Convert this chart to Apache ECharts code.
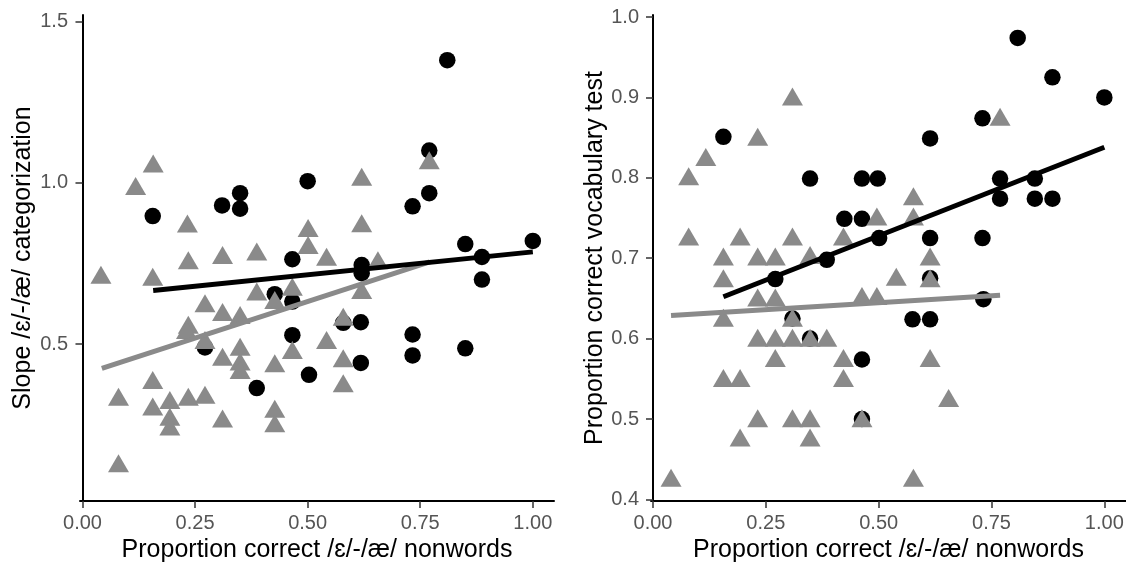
<!DOCTYPE html>
<html>
<head>
<meta charset="utf-8">
<script src="https://cdn.jsdelivr.net/npm/echarts@6/dist/echarts.min.js"></script>
<style>
html,body{margin:0;padding:0;background:#fff;}
#chart{width:1126px;height:562px;}
</style>
</head>
<body>
<div id="chart"></div>
<script>
// ---- Data ----
const xTicks = [0, 0.25, 0.5, 0.75, 1.0];
const leftYTicks = [0.5, 1.0, 1.5];
const rightYTicks = [0.4, 0.5, 0.6, 0.7, 0.8, 0.9, 1.0];

// Left panel: slope of categorization
const leftCircles = [
  [0.156,0.897],[0.31,0.93],[0.35,0.968],[0.35,0.92],[0.50,1.005],[0.81,1.38],
  [0.77,1.10],[0.77,0.968],[0.733,0.927],[0.85,0.81],[1.00,0.82],[0.887,0.77],
  [0.887,0.70],[0.62,0.745],[0.62,0.72],[0.618,0.568],[0.579,0.566],[0.618,0.442],
  [0.733,0.53],[0.733,0.465],[0.85,0.487],[0.503,0.405],[0.466,0.763],[0.427,0.655],
  [0.466,0.632],[0.466,0.528],[0.272,0.49],[0.387,0.364]
];
const leftTriangles = [
  [0.041,0.715],[0.08,0.337],[0.08,0.131],[0.118,0.99],[0.157,1.06],[0.156,0.709],
  [0.156,0.389],[0.156,0.307],[0.194,0.327],[0.194,0.275],[0.194,0.245],[0.233,0.874],
  [0.235,0.76],[0.235,0.56],[0.231,0.544],[0.235,0.337],[0.272,0.627],[0.272,0.513],
  [0.272,0.343],[0.311,0.776],[0.311,0.60],[0.311,0.461],[0.311,0.27],[0.35,0.59],
  [0.35,0.492],[0.35,0.446],[0.35,0.42],[0.387,0.787],[0.387,0.663],[0.427,0.637],
  [0.427,0.441],[0.427,0.30],[0.427,0.255],[0.466,0.678],[0.466,0.482],[0.501,0.86],
  [0.501,0.807],[0.542,0.771],[0.542,0.513],[0.579,0.585],[0.579,0.456],[0.579,0.379],
  [0.62,1.019],[0.62,0.875],[0.62,0.668],[0.656,0.76],[0.77,1.07]
];
const leftLineBlack = [[0.157,0.666],[1.0,0.786]];
const leftLineGrey = [[0.043,0.425],[0.771,0.755]];

// Right panel: vocabulary test
const rightCircles = [
  [0.156,0.851],[0.271,0.674],[0.309,0.625],[0.348,0.799],[0.348,0.60],[0.385,0.698],
  [0.424,0.749],[0.463,0.799],[0.463,0.749],[0.463,0.574],[0.463,0.50],[0.498,0.799],
  [0.501,0.725],[0.575,0.624],[0.614,0.849],[0.614,0.725],[0.614,0.675],[0.614,0.624],
  [0.73,0.874],[0.73,0.725],[0.732,0.649],[0.769,0.799],[0.769,0.774],[0.808,0.974],
  [0.846,0.799],[0.846,0.774],[0.885,0.925],[0.885,0.774],[1.0,0.9]
];
const rightTriangles = [
  [0.04,0.427],[0.079,0.802],[0.079,0.727],[0.117,0.826],[0.156,0.702],[0.156,0.675],
  [0.156,0.626],[0.156,0.551],[0.193,0.727],[0.193,0.551],[0.193,0.477],[0.232,0.851],
  [0.232,0.702],[0.232,0.651],[0.232,0.601],[0.232,0.501],[0.271,0.702],[0.271,0.651],
  [0.271,0.601],[0.271,0.576],[0.309,0.901],[0.309,0.727],[0.309,0.626],[0.309,0.601],
  [0.309,0.501],[0.348,0.704],[0.348,0.601],[0.348,0.501],[0.348,0.477],[0.385,0.601],
  [0.422,0.727],[0.422,0.576],[0.422,0.551],[0.463,0.653],[0.463,0.501],[0.496,0.752],
  [0.496,0.653],[0.539,0.677],[0.577,0.777],[0.577,0.752],[0.577,0.427],[0.614,0.702],
  [0.614,0.675],[0.614,0.576],[0.655,0.526],[0.769,0.876]
];
const rightLineBlack = [[0.156,0.652],[1.0,0.838]];
const rightLineGrey = [[0.04,0.6286],[0.769,0.654]];

const xTitle = 'Proportion correct /ɛ/-/æ/ nonwords';
const leftYTitle = 'Slope /ɛ/-/æ/ categorization';
const rightYTitle = 'Proportion correct vocabulary test';

// ---- Styling ----
const FONT = '"Liberation Sans", Arial, sans-serif';
const GREY = '#8a8a8a';
const tickColor = '#555555';

function xAxisDef(gridIndex, min, max) {
  return {
    type: 'value', gridIndex, min, max,
    axisLine: { show: true, lineStyle: { color: '#000', width: 2 } },
    axisTick: { show: true, length: 7, customValues: xTicks, lineStyle: { color: '#333', width: 1.5 } },
    axisLabel: { customValues: xTicks, formatter: v => v.toFixed(2), color: tickColor,
                 fontFamily: FONT, fontSize: 20, margin: 12 },
    splitLine: { show: false },
    name: xTitle, nameLocation: 'middle', nameGap: 37,
    nameTextStyle: { color: '#000', fontFamily: FONT, fontSize: 25 }
  };
}
function yAxisDef(gridIndex, min, max, ticks, title, gap) {
  return {
    type: 'value', gridIndex, min, max,
    axisLine: { show: true, lineStyle: { color: '#000', width: 2 } },
    axisTick: { show: true, length: 7, customValues: ticks, lineStyle: { color: '#333', width: 1.5 } },
    axisLabel: { customValues: ticks, formatter: v => v.toFixed(1), color: tickColor,
                 fontFamily: FONT, fontSize: 20, margin: 12 },
    splitLine: { show: false },
    name: title, nameLocation: 'middle', nameGap: gap, nameRotate: 90,
    nameTextStyle: { color: '#000', fontFamily: FONT, fontSize: 25 }
  };
}
function scatter(data, xi, symbol, color, size) {
  return { type: 'scatter', xAxisIndex: xi, yAxisIndex: xi, data, symbol, symbolSize: size,
           itemStyle: { color, opacity: 1 }, silent: true, animation: false };
}
function line(data, xi, color) {
  return { type: 'line', xAxisIndex: xi, yAxisIndex: xi, data, showSymbol: false, symbol: 'none',
           lineStyle: { color, width: 5, cap: 'butt' }, silent: true, animation: false, z: 3 };
}

const chart = echarts.init(document.getElementById('chart'), null, { renderer: 'canvas' });
chart.setOption({
  animation: false,
  backgroundColor: '#fff',
  grid: [
    { left: 80, top: 15, width: 474, height: 486, containLabel: false, outerBoundsMode: 'none' },
    { left: 651, top: 15, width: 475, height: 486, containLabel: false, outerBoundsMode: 'none' }
  ],
  xAxis: [ xAxisDef(0, -0.0055, 1.047), xAxisDef(1, -0.0044, 1.048) ],
  yAxis: [
    yAxisDef(0, 0.014, 1.52, leftYTicks, leftYTitle, 44),
    yAxisDef(1, 0.398, 1.0025, rightYTicks, rightYTitle, 42)
  ],
  series: [
    scatter(leftCircles, 0, 'circle', '#000', 16.5),
    scatter(leftTriangles, 0, 'triangle', GREY, [21, 18]),
    line(leftLineGrey, 0, GREY),
    line(leftLineBlack, 0, '#000'),
    scatter(rightCircles, 1, 'circle', '#000', 16.5),
    scatter(rightTriangles, 1, 'triangle', GREY, [21, 18]),
    line(rightLineGrey, 1, GREY),
    line(rightLineBlack, 1, '#000')
  ]
});
</script>
</body>
</html>
